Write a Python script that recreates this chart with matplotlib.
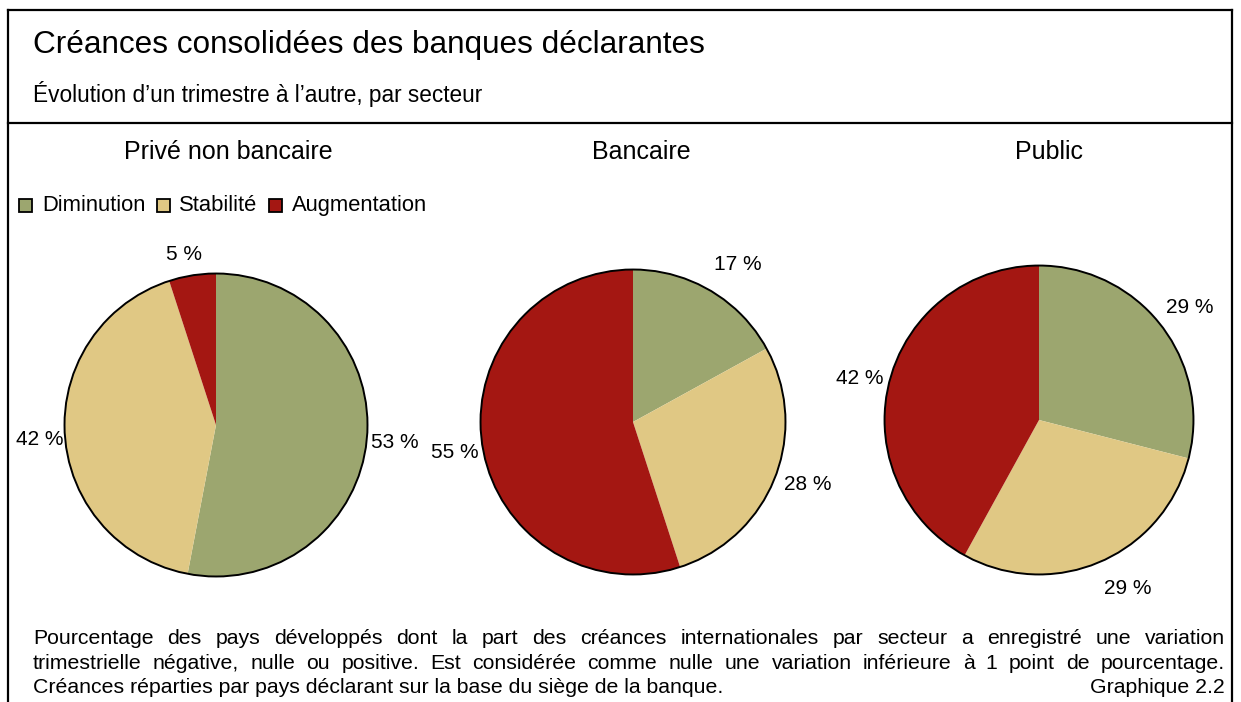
import matplotlib
matplotlib.use("Agg")
import matplotlib.pyplot as plt
from matplotlib.patches import Circle, Rectangle
from matplotlib.lines import Line2D
import numpy as np

plt.rcParams['font.family'] = ['Liberation Sans', 'DejaVu Sans']

W, H = 1241, 702

title = "Créances consolidées des banques déclarantes"
subtitle = "Évolution d\u2019un trimestre à l\u2019autre, par secteur"
sectors = ["Privé non bancaire", "Bancaire", "Public"]
categories = ["Diminution", "Stabilité", "Augmentation"]
prive = [53, 42, 5]
bancaire = [17, 28, 55]
public = [29, 29, 42]
colors = ["#9CA66F", "#E0C884", "#A41712"]
footnote_lines = [
    "Pourcentage des pays développés dont la part des créances internationales par secteur a enregistré une variation",
    "trimestrielle négative, nulle ou positive. Est considérée comme nulle une variation inférieure à 1 point de pourcentage.",
    "Créances réparties par pays déclarant sur la base du siège de la banque.",
]
graph_label = "Graphique 2.2"

fig = plt.figure(figsize=(W / 100, H / 100), dpi=100)

def fx(x):
    return x / W

def fy(y):
    return 1 - y / H

# frame lines
for (x0, y0, x1, y1) in [(8, 10, 1232, 10), (8, 10, 8, 702), (1232, 10, 1232, 702), (8, 123, 1232, 123)]:
    fig.add_artist(Line2D([fx(x0), fx(x1)], [fy(y0), fy(y1)], color="black", lw=1.6))

fig.text(fx(33), fy(53.5), title, fontsize=22.7, va="baseline", ha="left")
fig.text(fx(33), fy(102), subtitle, fontsize=16.3, va="baseline", ha="left")

# pies
pie_specs = [
    (sectors[0], prive, 216, 425, 153, 228),
    (sectors[1], bancaire, 633, 422, 154, 641),
    (sectors[2], public, 1039, 420, 156, 1049),
]
label_pos = [
    [(395, 440), (40, 437), (184, 253)],
    [(738, 262), (808, 482), (455, 450)],
    [(1190, 305), (1128, 587), (860, 376)],
]
for (name, vals, cx, cy, r, tx), lp in zip(pie_specs, label_pos):
    fig.text(fx(tx), fy(159), name, fontsize=18, ha="center", va="baseline")
    ax = fig.add_axes([fx(cx - r), fy(cy + r), 2 * r / W, 2 * r / H])
    ax.pie(vals, colors=colors, startangle=90, counterclock=False,
           radius=1, wedgeprops=dict(linewidth=0))
    ax.add_patch(Circle((0, 0), 1, fill=False, ec="black", lw=1.4))
    ax.set_xlim(-1.01, 1.01)
    ax.set_ylim(-1.01, 1.01)
    ax.set_aspect("auto")
    ax.axis("off")
    for v, (lx, ly) in zip(vals, lp):
        fig.text(fx(lx), fy(ly + 7.5), f"{v} %", fontsize=15, ha="center", va="baseline")

# legend
leg_x = [19, 157, 269]
txt_x = [42, 179, 292]
for cat, col, x, t in zip(categories, colors, leg_x, txt_x):
    fig.add_artist(Rectangle((fx(x), fy(212)), 13 / W, 13 / H, facecolor=col,
                             edgecolor="black", lw=1.3, transform=fig.transFigure))
    fig.text(fx(t), fy(211), cat, fontsize=15.8, ha="left", va="baseline")

# footnote, justified
fig.canvas.draw()
renderer = fig.canvas.get_renderer()
left, right = 33, 1225
fs = 15.3
line_y = [644, 669, 693]
for i, line in enumerate(footnote_lines):
    y = line_y[i]
    if i < 2:
        words = line.split(" ")
        texts = [fig.text(0, fy(y), w, fontsize=fs, ha="left", va="baseline") for w in words]
        widths = [t.get_window_extent(renderer).width for t in texts]
        total = sum(widths)
        gap = (right - left - total) / (len(words) - 1)
        x = left
        for t, wdt in zip(texts, widths):
            t.set_x(fx(x))
            x += wdt + gap
    else:
        fig.text(fx(left), fy(y), line, fontsize=fs, ha="left", va="baseline")
fig.text(fx(right), fy(line_y[2]), graph_label, fontsize=fs, ha="right", va="baseline")

fig.savefig("out.png", dpi=100)
